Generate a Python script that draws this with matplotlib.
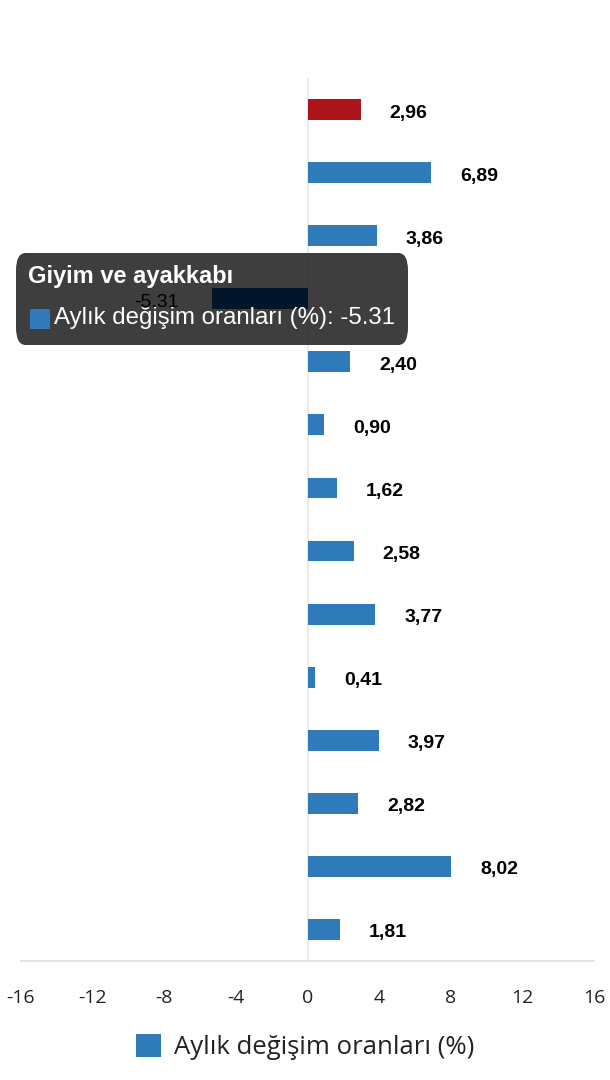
import matplotlib
matplotlib.use("Agg")
import matplotlib.pyplot as plt
from matplotlib.patches import FancyBboxPatch, Patch, Rectangle

categories = [
    "Genel",
    "Gıda ve alkolsüz içecekler",
    "Alkollü içecekler ve tütün",
    "Giyim ve ayakkabı",
    "Konut, su, elektrik, gaz ve diğer yakıtlar",
    "Mobilya, mefruşat ve ev bakım",
    "Sağlık",
    "Ulaştırma",
    "Bilgi ve iletişim",
    "Eğlence, spor ve kültür",
    "Eğitim hizmetleri",
    "Lokanta ve konaklama hizmetleri",
    "Sigorta ve finansal hizmetler",
    "Kişisel bakım, sosyal koruma ve çeşitli mal ve hizmetler",
]
values = [2.96, 6.89, 3.86, -5.31, 2.40, 0.90, 1.62, 2.58, 3.77, 0.41, 3.97, 2.82, 8.02, 1.81]
series_name = "Aylık değişim oranları (%)"
xticks = [-16, -12, -8, -4, 0, 4, 8, 12, 16]
hovered = 3

BLUE = "#2f7bba"
RED = "#ae151b"
HOVER = "#031629"

W, H = 610, 1080
fig = plt.figure(figsize=(W / 100, H / 100), dpi=100)
ax = fig.add_axes([21 / W, 1 - 961 / H, (594 - 21) / W, (961 - 78) / H])
ax.set_facecolor("none")

n = len(values)
ypos = list(range(n))
colors = []
for i in range(n):
    if i == 0:
        colors.append(RED)
    elif i == hovered:
        colors.append(HOVER)
    else:
        colors.append(BLUE)

ax.barh(ypos, values, height=0.33, color=colors, zorder=3)
ax.set_ylim(n - 0.5, -0.5)
ax.set_xlim(-16, 16)
ax.set_xticks(xticks)
ax.set_xticklabels([str(t) for t in xticks], fontsize=14, color="#222222", family="Open Sans")
ax.tick_params(axis="x", length=0, pad=20)
ax.set_yticks([])
for s in ["top", "right", "left"]:
    ax.spines[s].set_visible(False)
ax.spines["bottom"].set_color("#e0e0e0")
ax.spines["bottom"].set_linewidth(1.2)
ax.axvline(0, color="#e3e6ea", lw=1.2, zorder=1)

for i, v in enumerate(values):
    if v >= 0:
        ax.annotate(f"{v:.2f}".replace(".", ","), xy=(v, i), xytext=(21, -2.5),
                    textcoords="offset points", ha="left", va="center",
                    fontsize=14, fontweight="bold", family="Liberation Sans",
                    color="black", zorder=6)
    else:
        ax.annotate(f"{v:.2f}", xy=(v, i), xytext=(-24, -2.5),
                    textcoords="offset points", ha="right", va="center",
                    fontsize=14, family="Liberation Sans",
                    color="black", zorder=6)

# tooltip
tt = FancyBboxPatch((16 / W, 1 - 345 / H), (408 - 16) / W, (345 - 253) / H,
                    boxstyle="round,pad=0,rounding_size=0.016",
                    transform=fig.transFigure, facecolor="#333333", alpha=0.95,
                    edgecolor="none", zorder=2, clip_on=False)
ax.add_patch(tt)
ax.text(28 / W, 1 - 277 / H, categories[hovered], transform=fig.transFigure,
        fontsize=17, fontweight="bold", color="white", family="Liberation Sans",
        va="center", ha="left", zorder=7)
ax.add_patch(Rectangle((30 / W, 1 - 329 / H), 20 / W, 20 / H, transform=fig.transFigure,
                       facecolor=BLUE, edgecolor="none", zorder=7, clip_on=False))
ax.text(54 / W, 1 - 318 / H, f"{series_name}: {values[hovered]:.2f}", transform=fig.transFigure,
        fontsize=17.3, color="white", family="Liberation Sans",
        va="center", ha="left", zorder=7)

leg = fig.legend(handles=[Patch(facecolor=BLUE, edgecolor="none")], labels=[series_name],
                 loc="center", bbox_to_anchor=(0.5, 1 - 1047 / H), frameon=False,
                 prop={"family": "Open Sans", "size": 18.5}, handlelength=1.0, handleheight=1.0,
                 handletextpad=0.5)
for t in leg.get_texts():
    t.set_color("#222222")

fig.savefig("out.png", dpi=100)
